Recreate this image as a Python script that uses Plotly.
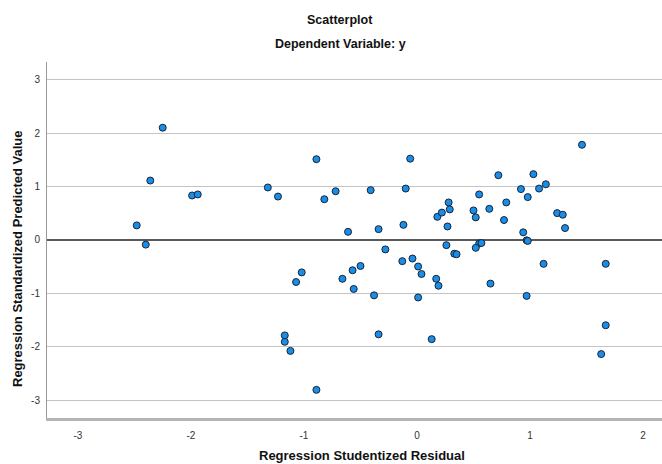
import plotly.graph_objects as go

studentized_residual = [
    -2.25, -2.36, -1.99, -1.94, -2.48, -2.40, -1.32, -1.23, -0.89, -0.82,
    -0.72, -0.41, -0.10, -0.06, -0.61, -0.34, -0.12, 0.18, 0.22, 0.28,
    0.29, 0.27, -0.28, -0.04, 0.26, 0.33, 0.35, 1.46, 0.72, 1.03,
    0.92, 1.08, 1.14, 0.98, 0.55, 0.50, 0.52, 0.64, 0.79, 0.77,
    1.24, 1.29, 1.31, 0.94, 0.97, 0.98, 0.55, 0.57, 0.52, -0.13,
    0.01, 0.04, -0.50, -0.57, -0.66, -0.56, -0.38, -1.02, -1.07, 0.17,
    0.19, 0.01, -0.34, 0.13, -1.17, -1.17, -1.12, -0.89, 1.12, 1.67,
    0.65, 0.97, 1.67, 1.63,
]
standardized_predicted = [
    2.10, 1.11, 0.83, 0.85, 0.27, -0.09, 0.98, 0.81, 1.51, 0.76,
    0.91, 0.93, 0.96, 1.52, 0.15, 0.20, 0.28, 0.43, 0.51, 0.70,
    0.57, 0.25, -0.18, -0.35, -0.10, -0.26, -0.27, 1.78, 1.21, 1.23,
    0.95, 0.96, 1.04, 0.80, 0.85, 0.55, 0.42, 0.58, 0.70, 0.37,
    0.50, 0.47, 0.22, 0.14, -0.01, -0.02, -0.07, -0.06, -0.15, -0.40,
    -0.50, -0.64, -0.49, -0.57, -0.73, -0.92, -1.04, -0.61, -0.79, -0.73,
    -0.86, -1.08, -1.77, -1.86, -1.79, -1.91, -2.08, -2.81, -0.45, -0.45,
    -0.82, -1.05, -1.60, -2.14,
]
x_ticks = [-3, -2, -1, 0, 1, 2]
y_ticks = [-3, -2, -1, 0, 1, 2, 3]

W, H = 662, 464
ML, MR, MT, MB = 47, 0, 62, 46
PW, PH = W - ML - MR, H - MT - MB

def px_x(p):
    return (p - ML) / PW

def px_y(p):
    return (H - MB - p) / PH

FONT = "Liberation Sans, Arial, sans-serif"

fig = go.Figure(
    go.Scatter(
        x=studentized_residual,
        y=standardized_predicted,
        mode="markers",
        marker=dict(size=7, color="#1a8ee6", line=dict(color="#17233a", width=1)),
        hoverinfo="x+y",
    )
)

fig.update_layout(
    width=W,
    height=H,
    margin=dict(l=ML, r=MR, t=MT, b=MB, pad=0, autoexpand=False),
    paper_bgcolor="white",
    plot_bgcolor="white",
    showlegend=False,
    font=dict(family=FONT, color="#222"),
    xaxis=dict(
        range=[-3.274, 2.168],
        tickvals=x_ticks,
        ticktext=[str(v) for v in x_ticks],
        showgrid=False,
        zeroline=False,
        showline=True,
        linecolor="#b4b4b4",
        linewidth=2.5,
        ticks="",
        ticklabelstandoff=6,
        tickfont=dict(size=10, color="#333", family=FONT),
        automargin=False,
        fixedrange=True,
    ),
    yaxis=dict(
        range=[-3.337, 3.330],
        tickvals=y_ticks,
        ticktext=[str(v) for v in y_ticks],
        showgrid=True,
        gridcolor="#c4c4c4",
        gridwidth=1.2,
        zeroline=True,
        zerolinecolor="#595959",
        zerolinewidth=2,
        showline=True,
        linecolor="#9a9a9a",
        linewidth=1,
        ticks="",
        ticklabelstandoff=4,
        tickfont=dict(size=10, color="#333", family=FONT),
        automargin=False,
        fixedrange=True,
    ),
    annotations=[
        dict(text="<b>Scatterplot</b>", x=px_x(340), y=px_y(20), xref="paper", yref="paper",
             xanchor="center", yanchor="middle", showarrow=False,
             font=dict(size=12.5, color="#111", family=FONT)),
        dict(text="<b>Dependent Variable: y</b>", x=px_x(340), y=px_y(44), xref="paper", yref="paper",
             xanchor="center", yanchor="middle", showarrow=False,
             font=dict(size=12.5, color="#111", family=FONT)),
        dict(text="<b>Regression Studentized Residual</b>", x=px_x(362), y=px_y(455), xref="paper", yref="paper",
             xanchor="center", yanchor="middle", showarrow=False,
             font=dict(size=13, color="#111", family=FONT)),
        dict(text="<b>Regression Standardized Predicted Value</b>", x=px_x(17), y=px_y(259), xref="paper", yref="paper",
             xanchor="center", yanchor="middle", showarrow=False, textangle=-90,
             font=dict(size=13, color="#111", family=FONT)),
    ],
)

fig.write_html(
    "out.html",
    config={"displayModeBar": False},
    post_script="document.body.style.margin='0';document.body.style.overflow='hidden';",
)
